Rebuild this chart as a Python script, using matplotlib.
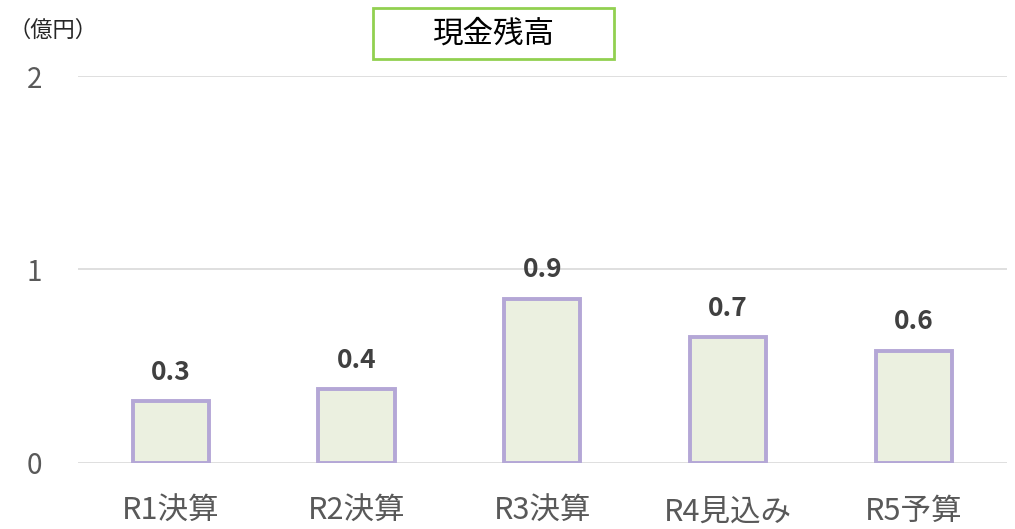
import matplotlib
matplotlib.use("Agg")
import matplotlib.pyplot as plt
from matplotlib.patches import Rectangle
import numpy as np

plt.rcParams['font.family'] = ['Noto Sans CJK JP', 'DejaVu Sans']

# data
categories = ['R1決算', 'R2決算', 'R3決算', 'R4見込み', 'R5予算']
values = [0.32, 0.38, 0.85, 0.65, 0.58]
labels = ['0.3', '0.4', '0.9', '0.7', '0.6']

fig = plt.figure(figsize=(10.15, 5.29), dpi=100)
ax = fig.add_axes([0.0768, 0.1248, 0.915, 0.7315])

x = np.arange(len(categories))
ax.bar(x, values, width=0.41, color='#EBF0E0', edgecolor='#B4A7D6', linewidth=2.8, zorder=3)

for xi, v, lab in zip(x, values, labels):
    ax.text(xi, v + 0.08, lab, ha='center', va='bottom', fontsize=19,
            fontweight='bold', color='#404040')

ax.set_xlim(-0.5, len(categories) - 0.5)
ax.set_ylim(0, 2)
ax.set_yticks([0, 1, 2])
ax.set_yticklabels(['0', '1', '2'])
ax.set_xticks(x)
ax.set_xticklabels(categories)
ax.tick_params(axis='y', length=0, pad=26, labelsize=20, labelcolor='#595959')
ax.tick_params(axis='x', length=0, pad=24, labelsize=22, labelcolor='#595959')
ax.grid(axis='y', color='#D9D9D9', linewidth=1.2, zorder=0)
for s in ax.spines.values():
    s.set_visible(False)

fig.text(0.008, 0.942, '（億円）', fontsize=16, color='#262626', ha='left', va='center')
fig.add_artist(Rectangle((0.3675, 0.8885), 0.2375, 0.0965, transform=fig.transFigure,
                         facecolor='white', edgecolor='#92D050', linewidth=2))
fig.text(0.486, 0.935, '現金残高', fontsize=22, color='black', ha='center', va='center')

fig.savefig('out.png', dpi=100)
